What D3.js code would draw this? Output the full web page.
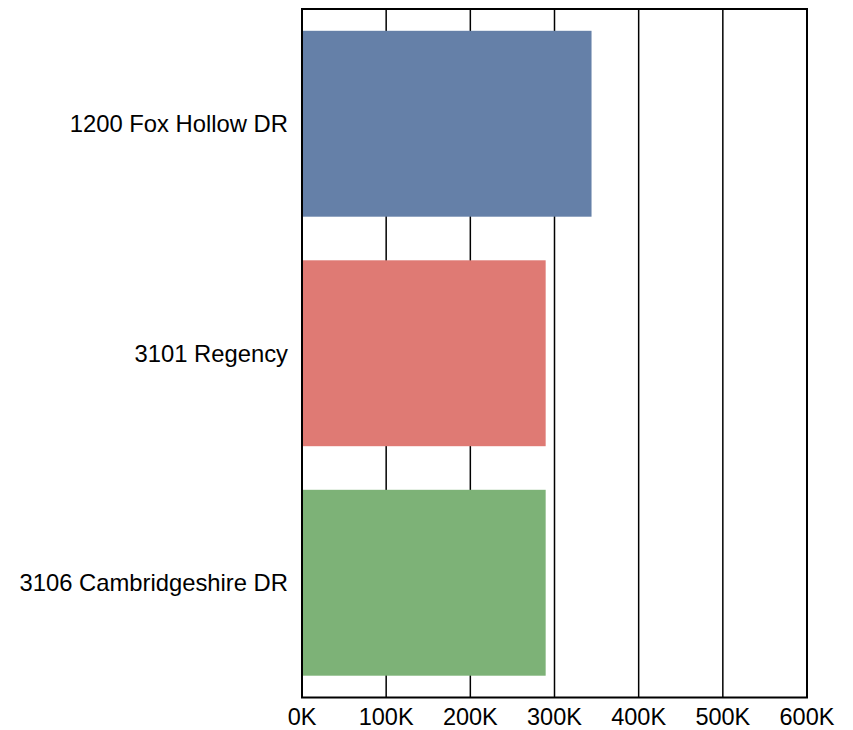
<!DOCTYPE html>
<html>
<head>
<meta charset="utf-8">
<script src="https://cdn.jsdelivr.net/npm/d3@7"></script>
<style>
  html, body { margin: 0; padding: 0; background: #fff; }
  svg { display: block; }
  text { font-family: "Liberation Sans", Arial, sans-serif; fill: #000; }
</style>
</head>
<body>
<svg id="chart" width="853" height="730"></svg>
<script>
// Property values by address
const addresses = ["1200 Fox Hollow DR", "3101 Regency", "3106 Cambridgeshire DR"];
const values = [344000, 289500, 289500];
const colors = ["#6580a8", "#df7a74", "#7db277"];
const xTicks = [0, 100000, 200000, 300000, 400000, 500000, 600000];

const margin = { top: 9, right: 46, bottom: 32.5, left: 302 };
const width = 853, height = 730;
const innerW = width - margin.left - margin.right;
const innerH = height - margin.top - margin.bottom;

const svg = d3.select("#chart");
const g = svg.append("g").attr("transform", `translate(${margin.left},${margin.top})`);

const x = d3.scaleLinear().domain([0, 600000]).range([0, innerW]);
const y = d3.scaleBand().domain(addresses).range([0, innerH])
  .paddingInner(0.19).paddingOuter(0.095);

// vertical grid lines
g.selectAll("line.grid")
  .data(xTicks.slice(1, -1))
  .join("line")
  .attr("class", "grid")
  .attr("x1", d => x(d)).attr("x2", d => x(d))
  .attr("y1", 0).attr("y2", innerH)
  .attr("stroke", "#000").attr("stroke-width", 1.5);

// bars
g.selectAll("rect.bar")
  .data(addresses)
  .join("rect")
  .attr("class", "bar")
  .attr("x", x(0))
  .attr("y", d => y(d))
  .attr("width", (d, i) => x(values[i]) - x(0))
  .attr("height", y.bandwidth())
  .attr("fill", (d, i) => colors[i]);

// frame
g.append("rect")
  .attr("x", 0).attr("y", 0)
  .attr("width", innerW).attr("height", innerH)
  .attr("fill", "none").attr("stroke", "#000").attr("stroke-width", 2);

// x axis labels
const fmt = d => (d / 1000) + "K";
g.selectAll("text.xtick")
  .data(xTicks)
  .join("text")
  .attr("class", "xtick")
  .attr("x", d => x(d))
  .attr("y", innerH + 27)
  .attr("text-anchor", "middle")
  .style("font-size", "23.5px")
  .text(fmt);

// category labels
g.selectAll("text.ylab")
  .data(addresses)
  .join("text")
  .attr("class", "ylab")
  .attr("x", -14)
  .attr("y", d => y(d) + y.bandwidth() / 2)
  .attr("dy", "0.36em")
  .attr("text-anchor", "end")
  .style("font-size", "23.8px")
  .text(d => d);
</script>
</body>
</html>
